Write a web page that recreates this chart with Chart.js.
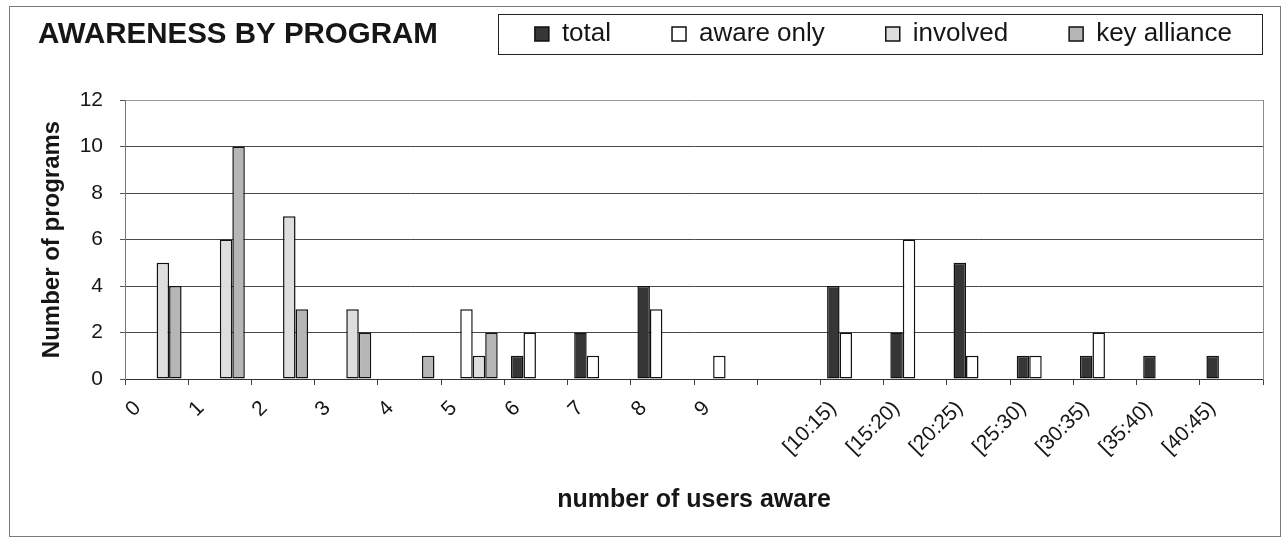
<!DOCTYPE html>
<html>
<head>
<meta charset="utf-8">
<script src="https://cdn.jsdelivr.net/npm/chart.js@4/dist/chart.umd.min.js"></script>
<style>
  html, body { margin: 0; padding: 0; background: #fff; overflow: hidden; }
  canvas { display: block; }
</style>
</head>
<body>
<canvas id="chart" width="1283" height="539"></canvas>
<script>
// Categories on the x axis (one blank slot separates single counts from ranges)
const categories = ['0', '1', '2', '3', '4', '5', '6', '7', '8', '9', '',
  '[10:15)', '[15:20)', '[20:25)', '[25:30)', '[30:35)', '[35:40)', '[40:45)'];

// Number of programs per awareness bucket
const total       = [null, null, null, null, null, null, 1, 2, 4, null, null, 4, 2, 5, 1, 1, 1, 1];
const awareOnly   = [null, null, null, null, null, 3, 2, 1, 3, 1, null, 2, 6, 1, 1, 2, null, null];
const involved    = [5, 6, 7, 3, null, 1, null, null, null, null, null, null, null, null, null, null, null, null];
const keyAlliance = [4, 10, 3, 2, 1, 2, null, null, null, null, null, null, null, null, null, null, null, null];

const yTicks = [0, 2, 4, 6, 8, 10, 12];

const FONT = "'Liberation Sans', Arial, Helvetica, sans-serif";
const INK = '#161616';

// Give the legend row a fixed band so the plot starts below the header
const legendBand = {
  id: 'legendBand',
  beforeInit(chart) {
    const fit = chart.legend.fit;
    chart.legend.fit = function () {
      fit.call(this);
      this.height = 140;
      this.lineWidths = this.lineWidths.map(w => w + 1);
    };
  }
};

// Outer frame, heading and the box around the legend
const frame = {
  id: 'frame',
  beforeDraw(chart) {
    const { ctx, width, height } = chart;
    ctx.save();
    ctx.fillStyle = '#ffffff';
    ctx.fillRect(0, 0, width, height);
    ctx.strokeStyle = '#7a7a7a';
    ctx.lineWidth = 1;
    ctx.strokeRect(9.5, 6.5, 1271, 530);
    ctx.restore();
  },
  afterDraw(chart) {
    const { ctx } = chart;
    ctx.save();
    ctx.fillStyle = INK;
    ctx.font = `bold 29.5px ${FONT}`;
    ctx.textBaseline = 'middle';
    ctx.textAlign = 'left';
    ctx.fillText('AWARENESS BY PROGRAM', 38, 35);
    ctx.strokeStyle = '#222';
    ctx.lineWidth = 1;
    ctx.strokeRect(498.5, 14.5, 764, 40);
    ctx.restore();
  }
};

new Chart(document.getElementById('chart'), {
  type: 'bar',
  data: {
    labels: categories,
    datasets: [
      { label: 'total', data: total, backgroundColor: '#363636', borderColor: '#111', borderWidth: 1.5, borderSkipped: false },
      { label: 'aware only', data: awareOnly, backgroundColor: '#ffffff', borderColor: '#111', borderWidth: 1.5, borderSkipped: false },
      { label: 'involved', data: involved, backgroundColor: '#dedede', borderColor: '#111', borderWidth: 1.5, borderSkipped: false },
      { label: 'key alliance', data: keyAlliance, backgroundColor: '#b6b6b6', borderColor: '#111', borderWidth: 1.5, borderSkipped: false }
    ]
  },
  options: {
    responsive: false,
    devicePixelRatio: 1,
    animation: false,
    layout: { padding: { top: -40, right: -11, bottom: 0, left: 0 } },
    datasets: { bar: { categoryPercentage: 0.79, barPercentage: 1.0 } },
    plugins: {
      title: { display: false },
      tooltip: { enabled: false },
      legend: {
        position: 'top',
        align: 'end',
        labels: {
          font: { family: FONT, size: 26 },
          color: INK,
          boxWidth: 14,
          boxHeight: 14,
          padding: 61
        }
      }
    },
    scales: {
      x: {
        offset: true,
        grid: { display: true, drawOnChartArea: false, drawTicks: true, tickLength: 6, color: '#444', offset: true },
        border: { display: true, color: '#333', width: 1 },
        ticks: {
          font: { family: FONT, size: 21 },
          color: INK,
          autoSkip: false,
          maxRotation: 45,
          minRotation: 45,
          padding: 11,
          labelOffset: -19
        },
        title: {
          display: true,
          text: 'number of users aware',
          font: { family: FONT, size: 25, weight: 'bold' },
          color: INK,
          padding: { top: 0, bottom: 24 }
        },
        afterFit(axis) { axis.height = 160; }
      },
      y: {
        min: 0,
        max: 12,
        afterBuildTicks(axis) { axis.ticks = yTicks.map(v => ({ value: v })); },
        grid: {
          color: c => (c.tick && c.tick.value === 12 ? '#9a9a9a' : '#4a4a4a'),
          lineWidth: 1,
          drawTicks: true,
          tickLength: 5,
          tickColor: '#555'
        },
        border: { display: true, color: '#777', width: 1 },
        ticks: {
          font: { family: FONT, size: 21 },
          color: INK,
          padding: 17
        },
        title: {
          display: true,
          text: 'Number of programs',
          font: { family: FONT, size: 24, weight: 'bold' },
          color: INK,
          padding: { top: 38, bottom: 0 }
        },
        afterFit(axis) { axis.width = 125; }
      },
      edge: {
        type: 'linear',
        position: 'right',
        display: true,
        grid: { display: false, drawTicks: false },
        ticks: { display: false },
        border: { display: true, color: '#8a8a8a', width: 1 },
        afterFit(axis) { axis.width = 31; }
      }
    }
  },
  plugins: [legendBand, frame]
});
</script>
</body>
</html>
